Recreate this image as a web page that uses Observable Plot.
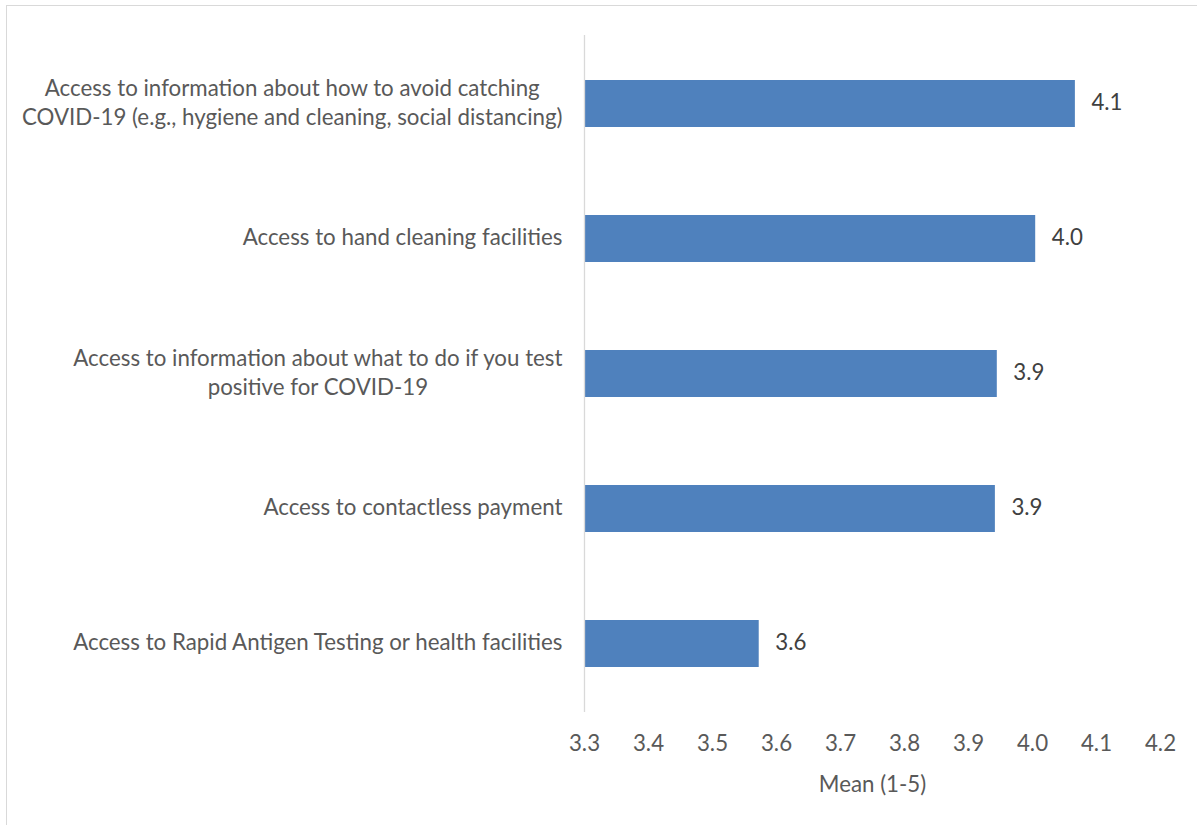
<!DOCTYPE html>
<html>
<head>
<meta charset="utf-8">
<script src="https://cdn.jsdelivr.net/npm/d3@7"></script>
<script src="https://cdn.jsdelivr.net/npm/@observablehq/plot@0.6"></script>
<style>
  html, body { margin: 0; padding: 0; background: #fff; overflow: hidden; }
  #wrap { position: relative; width: 1197px; height: 825px; }
  #frame { position: absolute; left: 6px; top: 5px; width: 1400px; height: 1000px; border: 1px solid #d9d9d9; box-sizing: border-box; pointer-events: none; }
  #chart { position: absolute; left: 0; top: 0; }
</style>
</head>
<body>
<div id="wrap"><div id="chart"></div><div id="frame"></div></div>
<script>
const categories = [
  "Access to information about how to avoid catching\nCOVID-19 (e.g., hygiene and cleaning, social distancing)",
  "Access to hand cleaning facilities",
  "Access to information about what to do if you test\npositive for COVID-19",
  "Access to contactless payment",
  "Access to Rapid Antigen Testing or health facilities"
];
const means = [4.067, 4.005, 3.945, 3.942, 3.573];
const xTicks = [3.3, 3.4, 3.5, 3.6, 3.7, 3.8, 3.9, 4.0, 4.1, 4.2];

const data = categories.map((c, i) => ({category: c, mean: means[i]}));
const FONT = "Lato, 'Open Sans', sans-serif";
const FS = 22.3;

const plot = Plot.plot({
  width: 1197,
  height: 825,
  marginLeft: 584,
  marginRight: 37,
  marginTop: 35,
  marginBottom: 113,
  style: {fontFamily: FONT, fontSize: FS + "px", color: "#595959", background: "transparent"},
  x: {domain: [3.3, 4.2]},
  y: {domain: categories, padding: 0},
  marks: [
    Plot.barX(data, {y: "category", x1: 3.3, x2: "mean", fill: "#4f81bd", insetTop: 44, insetBottom: 44}),
    Plot.ruleX([3.3], {stroke: "#d9d9d9", strokeWidth: 1.3}),
    Plot.text(data, {y: "category", x: "mean", text: d => d3.format(".1f")(d.mean), dx: 16, dy: -1.5, textAnchor: "start", fill: "#404040", fontSize: FS}),
    Plot.axisX({ticks: xTicks, tickFormat: d3.format(".1f"), tickSize: 0, tickPadding: 23, fontSize: FS, fill: "#595959",
      label: "Mean (1-5)", labelAnchor: "center", labelOffset: 79, labelArrow: "none"}),
    Plot.axisY({tickSize: 0, tickPadding: 22, dy: -3, fontSize: FS, fill: "#595959", lineHeight: 1.3, label: null})
  ]
});
document.getElementById("chart").appendChild(plot);

// center multi-line category labels (each block right-aligned at the axis gap)
plot.querySelectorAll('g[aria-label="y-axis tick label"] text').forEach(t => {
  const spans = t.querySelectorAll("tspan");
  if (spans.length > 1) {
    let w = 0;
    spans.forEach(s => { w = Math.max(w, s.getComputedTextLength()); });
    t.setAttribute("text-anchor", "middle");
    const x0 = parseFloat(spans[0].getAttribute("x") || 0);
    spans.forEach(s => s.setAttribute("x", x0 - w / 2));
  }
});
</script>
</body>
</html>
